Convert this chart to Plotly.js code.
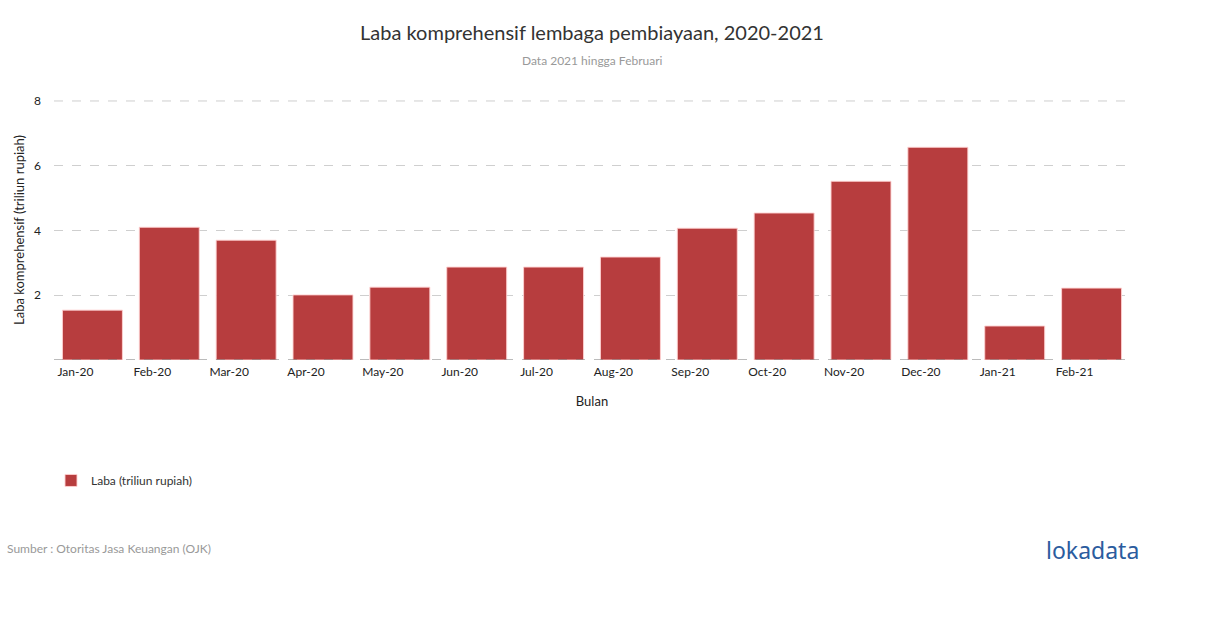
<!DOCTYPE html>
<html>
<head>
<meta charset="utf-8">
<script src="https://cdn.plot.ly/plotly-3.0.1.min.js"></script>
<style>
  html, body { margin: 0; padding: 0; background: #fff; }
  #chart { width: 1210px; height: 628px; }
</style>
</head>
<body>
<div id="chart"></div>
<script>
const months = ["Jan-20", "Feb-20", "Mar-20", "Apr-20", "May-20", "Jun-20", "Jul-20",
    "Aug-20", "Sep-20", "Oct-20", "Nov-20", "Dec-20", "Jan-21", "Feb-21"];
const laba = [1.54, 4.10, 3.70, 2.01, 2.25, 2.87, 2.87, 3.18, 4.07, 4.54, 5.52, 6.57, 1.05, 2.22];
const yTicks = [2, 4, 6, 8];

const font = "Lato, 'Open Sans', sans-serif";
const barColor = "#b73d3e";
// plot area in px: left 54, width 1076, zero line at 360, 32.4 px per unit
const px = x => (x - 54) / 1076, py = y => (360 - y) / 259;

const trace = {
    type: "bar", x: months, y: laba, name: "Laba (triliun rupiah)",
    marker: { color: barColor, line: { color: "rgba(255,210,210,0.9)", width: 1 } },
    hoverinfo: "x+y"
};

// dashed lines at 0 and at the top tick (plotly drops grid/zero lines at the edges)
const edgeLine = (y, color) => ({ type: "line", xref: "paper", yref: "y", x0: 0, x1: 1, y0: y, y1: y,
    line: { color, width: 1, dash: "dash" } });

const layout = {
    width: 1210, height: 628,
    paper_bgcolor: "#fff", plot_bgcolor: "#fff",
    margin: { l: 54, r: 80, t: 100, b: 268 },
    font: { family: font, color: "#333", size: 12 },
    bargap: 0.22,
    title: { text: "Laba komprehensif lembaga pembiayaan, 2020-2021", font: { size: 20, color: "#333" },
        x: 0.5, xref: "paper", y: 0.947, yanchor: "middle" },
    xaxis: {
        type: "category", showgrid: false, zeroline: false, showline: false, ticks: "",
        tickfont: { size: 12, color: "#222" }, ticklabelshift: -17, ticklabelstandoff: 3,
        title: { text: "Bulan", font: { size: 13, color: "#222" }, standoff: 18 }
    },
    yaxis: {
        range: [0, 8.03], tickvals: yTicks, ticktext: yTicks.map(String),
        showgrid: true, gridcolor: "#cfcfcf", griddash: "dash", gridwidth: 1,
        zeroline: false, showline: false, ticks: "", ticklabelstandoff: 12,
        tickfont: { size: 12, color: "#222" },
        title: { text: "Laba komprehensif (triliun rupiah)", font: { size: 13, color: "#222" }, standoff: 6 }
    },
    showlegend: true,
    legend: { orientation: "h", x: px(51), xanchor: "left", y: py(480), yanchor: "middle",
        font: { size: 12, color: "#333" }, itemwidth: 30, bgcolor: "rgba(0,0,0,0)" },
    shapes: [edgeLine(0, "#777"), edgeLine(yTicks[yTicks.length - 1], "#cfcfcf")],
    annotations: [
        { text: "Data 2021 hingga Februari", xref: "paper", yref: "paper", x: 0.5, y: py(62),
          showarrow: false, font: { size: 12, color: "#999" }, xanchor: "center", yanchor: "middle" },
        { text: "Sumber : Otoritas Jasa Keuangan (OJK)", xref: "paper", yref: "paper",
          x: px(5), y: py(548), xanchor: "left", yanchor: "middle", showarrow: false,
          font: { size: 12, color: "#999" } },
        { text: "lokadata", xref: "paper", yref: "paper",
          x: px(1141), y: py(549), xanchor: "right", yanchor: "middle", showarrow: false,
          font: { size: 23, color: "#2b5c9e", family: "'Noto Sans', sans-serif" } }
    ]
};

Plotly.newPlot("chart", [trace], layout, { displayModeBar: false, staticPlot: true });
</script>
</body>
</html>
